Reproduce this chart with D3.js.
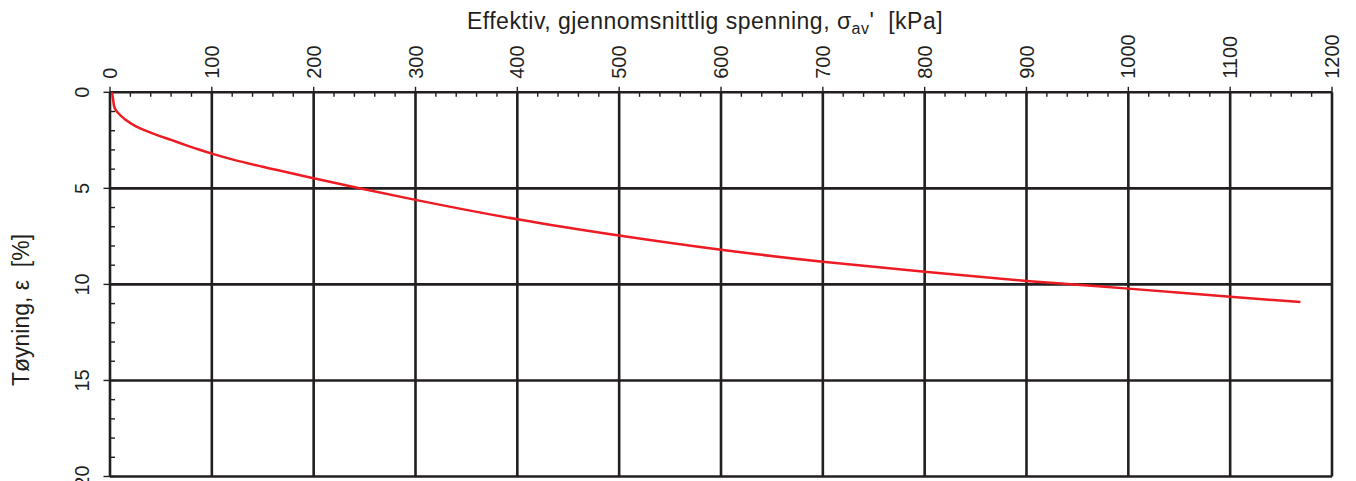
<!DOCTYPE html>
<html>
<head>
<meta charset="utf-8">
<script src="https://cdn.jsdelivr.net/npm/d3@7"></script>
<style>
	body { margin: 0; background: #fff; }
	svg { display: block; font-family: "Liberation Sans", Arial, sans-serif; }
	text { fill: #231f20; white-space: pre; }
</style>
</head>
<body>
<div id="chart-area"><svg></svg></div>
<script>
const chartSize = { width: 1356, height: 481 };
const margin = { left: 110, right: 24, top: 92.3 };
const width = chartSize.width - margin.left - margin.right;
const height = 384.2;

// stress (kPa) and strain (%)
const stress = [2, 3, 4, 6, 8, 15, 25, 35, 47, 60, 75, 88, 100, 120, 150, 200, 245, 300, 400, 500, 600, 700, 800, 900, 1000, 1100, 1169];
const strain = [0, 0.35, 0.72, 0.95, 1.08, 1.42, 1.76, 2.0, 2.24, 2.48, 2.76, 2.99, 3.19, 3.49, 3.88, 4.47, 4.99, 5.6, 6.61, 7.46, 8.2, 8.82, 9.34, 9.82, 10.22, 10.64, 10.92];

const xTicks = [0, 100, 200, 300, 400, 500, 600, 700, 800, 900, 1000, 1100, 1200];
const yTicks = [0, 5, 10, 15, 20];

const ink = "#231f20";

const drawChart = () => {
	const svg = d3
		.select("#chart-area svg")
		.attr("width", chartSize.width)
		.attr("height", chartSize.height);

	const x = d3.scaleLinear().domain([0, 1200]).range([0, width]);
	const y = d3.scaleLinear().domain([0, 20]).range([0, height]);

	const g = svg
		.append("g")
		.attr("transform", `translate(${margin.left},${margin.top})`);

	// minor ticks, inside
	const xMinor = d3.range(0, 1201, 20);
	g.append("g")
		.selectAll("line")
		.data(xMinor)
		.join("line")
		.attr("x1", d => x(d))
		.attr("x2", d => x(d))
		.attr("y1", 0)
		.attr("y2", 4.5)
		.attr("stroke", ink)
		.attr("stroke-width", 1.4);

	const yMinor = d3.range(0, 21, 1);
	g.append("g")
		.selectAll("line")
		.data(yMinor)
		.join("line")
		.attr("x1", 0)
		.attr("x2", 5)
		.attr("y1", d => y(d))
		.attr("y2", d => y(d))
		.attr("stroke", ink)
		.attr("stroke-width", 1.4);

	// major tick stubs, outside
	g.append("g")
		.selectAll("line")
		.data(xTicks)
		.join("line")
		.attr("x1", d => x(d))
		.attr("x2", d => x(d))
		.attr("y1", -5.5)
		.attr("y2", 0)
		.attr("stroke", ink)
		.attr("stroke-width", 1.4);

	g.append("g")
		.selectAll("line")
		.data(yTicks)
		.join("line")
		.attr("x1", -6.5)
		.attr("x2", 0)
		.attr("y1", d => y(d))
		.attr("y2", d => y(d))
		.attr("stroke", ink)
		.attr("stroke-width", 1.4);

	// grid
	g.append("g")
		.selectAll("line")
		.data(xTicks)
		.join("line")
		.attr("x1", d => x(d))
		.attr("x2", d => x(d))
		.attr("y1", 0)
		.attr("y2", height)
		.attr("stroke", ink)
		.attr("stroke-width", 2.6);

	g.append("g")
		.selectAll("line")
		.data(yTicks)
		.join("line")
		.attr("x1", 0)
		.attr("x2", width)
		.attr("y1", d => y(d))
		.attr("y2", d => y(d))
		.attr("stroke", ink)
		.attr("stroke-width", 2.6);

	// tick labels
	g.append("g")
		.selectAll("text")
		.data(xTicks)
		.join("text")
		.attr("transform", d => `translate(${x(d) + 7},-13.5) rotate(-90)`)
		.attr("font-size", 20)
		.text(d => d);

	g.append("g")
		.selectAll("text")
		.data(yTicks)
		.join("text")
		.attr("transform", d => `translate(-21,${y(d)}) rotate(-90)`)
		.attr("text-anchor", "middle")
		.attr("font-size", 20)
		.text(d => d);

	// curve
	const points = stress.map((s, i) => [s, strain[i]]);
	const line = d3
		.line()
		.x(p => x(p[0]))
		.y(p => y(p[1]))
		.curve(d3.curveMonotoneX);

	g.append("path")
		.attr("d", line(points))
		.attr("fill", "none")
		.attr("stroke", "#ed1c24")
		.attr("stroke-width", 2.5);

	// axis labels
	const title = svg
		.append("text")
		.attr("x", 705)
		.attr("y", 28.5)
		.attr("text-anchor", "middle")
		.attr("font-size", 23)
		.attr("letter-spacing", 0.5);
	title.append("tspan").text("Effektiv, gjennomsnittlig spenning, σ");
	title.append("tspan").attr("font-size", 16).attr("dy", 5).text("av");
	title.append("tspan").attr("dy", -5).text("'  [kPa]");

	svg.append("text")
		.attr("transform", "translate(28.5,310) rotate(-90)")
		.attr("text-anchor", "middle")
		.attr("font-size", 23)
		.text("Tøyning, ε  [%]");
};

window.onload = drawChart;
</script>
</body>
</html>
